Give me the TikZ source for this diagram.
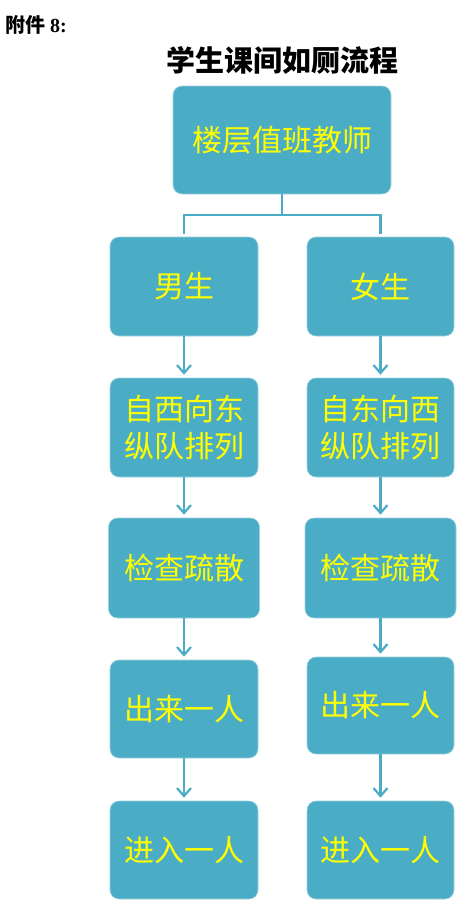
\documentclass[tikz,border=0pt]{standalone}
\usepackage{fontspec}
\setmainfont{Liberation Serif}
\newfontfamily\cjk{Noto Sans CJK SC}
\usetikzlibrary{arrows.meta}
\definecolor{boxblue}{RGB}{75,172,198}
\definecolor{boxedge}{RGB}{160,210,225}
\definecolor{txtyellow}{RGB}{255,255,0}
\tikzset{
  flowbox/.style={rectangle, rounded corners=9pt, fill=boxblue, draw=boxedge, line width=0.6pt,
    inner sep=0pt, align=center, text=txtyellow,
    font=\cjk\fontsize{30}{37}\selectfont},
  conn/.style={draw=boxblue, line width=2.2pt},
  arr/.style={conn, -{Straight Barb[length=8pt,width=14pt,line width=2.2pt]}, shorten >=3pt},
}
\begin{document}
\begin{tikzpicture}[x=1pt,y=-1pt]
\useasboundingbox (0,0) rectangle (465,913);
\fill[white] (0,0) rectangle (465,913);
% headings
\node[anchor=west, inner sep=0pt] (att) at (5,25) {\fontsize{20}{22}\selectfont\bfseries{\cjk 附件} 8:};
\node[inner sep=0pt] (title) at (282,60) {\cjk\bfseries\fontsize{29}{32}\selectfont 学生课间如厕流程};
% boxes
\node[flowbox, minimum width=218pt, minimum height=108pt] (top) at (282,140) {楼层值班教师};
\node[flowbox, minimum width=148pt, minimum height=99pt] (m1) at (184,286.5) {男生};
\node[flowbox, minimum width=147pt, minimum height=99pt] (f1) at (380.5,286.5) {女生};
\node[flowbox, minimum width=148pt, minimum height=99pt] (m2) at (184,427.5) {自西向东\\纵队排列};
\node[flowbox, minimum width=147pt, minimum height=99pt] (f2) at (380.5,427.5) {自东向西\\纵队排列};
\node[flowbox, minimum width=151pt, minimum height=100pt] (m3) at (184,568) {检查疏散};
\node[flowbox, minimum width=151pt, minimum height=100pt] (f3) at (380.5,568) {检查疏散};
\node[flowbox, minimum width=148pt, minimum height=98pt] (m4) at (184,709) {出来一人};
\node[flowbox, minimum width=147pt, minimum height=97pt] (f4) at (380.5,705.5) {出来一人};
\node[flowbox, minimum width=148pt, minimum height=98pt] (m5) at (184,850) {进入一人};
\node[flowbox, minimum width=147pt, minimum height=98pt] (f5) at (380.5,850) {进入一人};
% branching connector
\coordinate (j) at (282,215);
\draw[conn] (top.south) -- (j);
\draw[conn, shorten >=3pt] (j) -| (m1.north);
\draw[conn, shorten >=3pt] (j) -| (f1.north);
% arrows
\foreach \a/\b in {m1/m2,m2/m3,m3/m4,m4/m5,f1/f2,f2/f3,f3/f4,f4/f5}
  \draw[arr] (\a.south) -- (\b.north);
\end{tikzpicture}
\end{document}
